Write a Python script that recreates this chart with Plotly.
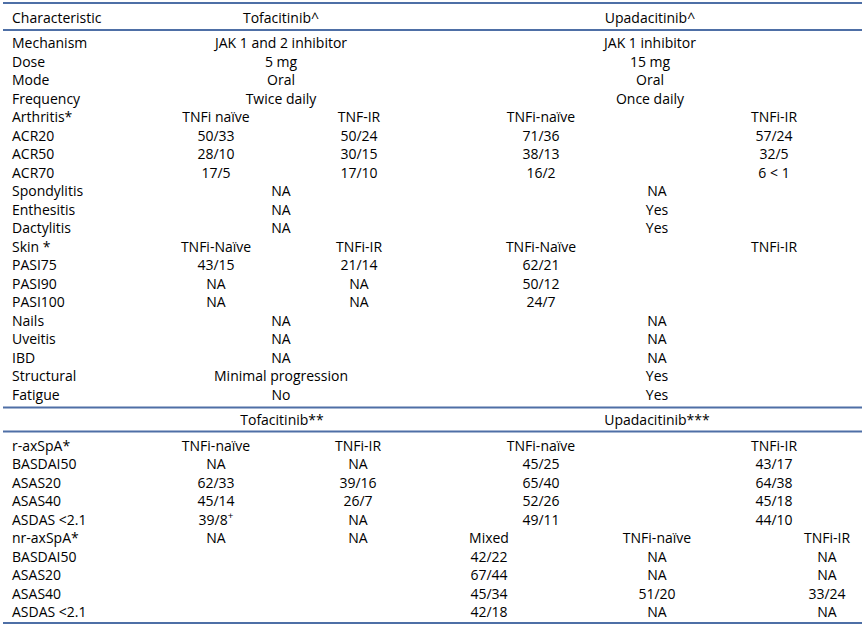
import plotly.graph_objects as go

# ---------------- data ----------------
header_top = ["Characteristic", "Tofacitinib^", "Upadacitinib^"]
header_bottom = ["Tofacitinib**", "Upadacitinib***"]

top_labels = ["Mechanism", "Dose", "Mode", "Frequency", "Arthritis*", "ACR20", "ACR50", "ACR70",
              "Spondylitis", "Enthesitis", "Dactylitis", "Skin *", "PASI75", "PASI90", "PASI100",
              "Nails", "Uveitis", "IBD", "Structural", "Fatigue"]
tofa_merged = ["JAK 1 and 2 inhibitor", "5 mg", "Oral", "Twice daily", "", "", "", "",
               "NA", "NA", "NA", "", "", "", "", "NA", "NA", "NA", "Minimal progression", "No"]
tofa_naive = ["", "", "", "", "TNFi naïve", "50/33", "28/10", "17/5", "", "", "",
              "TNFi-Naïve", "43/15", "NA", "NA", "", "", "", "", ""]
tofa_ir = ["", "", "", "", "TNF-IR", "50/24", "30/15", "17/10", "", "", "",
           "TNFi-IR", "21/14", "NA", "NA", "", "", "", "", ""]
upa_info = ["JAK 1 inhibitor", "15 mg", "Oral", "Once daily", "", "", "", "", "", "", "",
            "", "", "", "", "", "", "", "", ""]
upa_merged = ["", "", "", "", "", "", "", "", "NA", "Yes", "Yes", "", "", "", "",
              "NA", "NA", "NA", "Yes", "Yes"]
upa_naive = ["", "", "", "", "TNFi-naïve", "71/36", "38/13", "16/2", "", "", "",
             "TNFi-Naïve", "62/21", "50/12", "24/7", "", "", "", "", ""]
upa_ir = ["", "", "", "", "TNFi-IR", "57/24", "32/5", "6 &lt; 1", "", "", "",
          "TNFi-IR", "", "", "", "", "", "", "", ""]

bottom_labels = ["r-axSpA*", "BASDAI50", "ASAS20", "ASAS40", "ASDAS &lt;2.1",
                 "nr-axSpA*", "BASDAI50", "ASAS20", "ASAS40", "ASDAS &lt;2.1"]
tofa_ax_naive = ["TNFi-naïve", "NA", "62/33", "45/14", "39/8<sup>+</sup>", "NA", "", "", "", ""]
tofa_ax_ir = ["TNFi-IR", "NA", "39/16", "26/7", "NA", "NA", "", "", "", ""]
upa_ax_naive = ["TNFi-naïve", "45/25", "65/40", "52/26", "49/11", "", "", "", "", ""]
upa_ax_ir = ["TNFi-IR", "43/17", "64/38", "45/18", "44/10", "", "", "", "", ""]
upa_nr_mixed = ["", "", "", "", "", "Mixed", "42/22", "67/44", "45/34", "42/18"]
upa_nr_naive = ["", "", "", "", "", "TNFi-naïve", "NA", "NA", "51/20", "NA"]
upa_nr_ir = ["", "", "", "", "", "TNFi-IR", "NA", "NA", "33/24", "NA"]

# ---------------- layout constants ----------------
W, H = 865, 625
FONT = "Open Sans"
FSIZE = 14
TXT = "#000000"
RULE = "#4e6fa6"
DY = 2.0   # vertical text offset correction
LX = 12    # left label anchor

top_y0, bottom_y0, step = 42.5 + DY, 445.0 + DY, 18.5
top_y = [top_y0 + i * step for i in range(len(top_labels))]
bot_y = [bottom_y0 + i * step for i in range(len(bottom_labels))]

fig = go.Figure()


def add_col(texts, ys, x, align="center"):
    xs, yy, tt = [], [], []
    for t, y in zip(texts, ys):
        if t:
            xs.append(x)
            yy.append(y)
            tt.append(t)
    fig.add_trace(go.Scatter(
        x=xs, y=yy, text=tt, mode="text",
        textposition="middle right" if align == "left" else "middle center",
        textfont=dict(family=FONT, size=FSIZE, color=TXT),
        hoverinfo="skip", showlegend=False, cliponaxis=False))


# headers
add_col([header_top[0]], [17 + DY], LX, "left")
add_col([header_top[1]], [17 + DY], 281)
add_col([header_top[2]], [17 + DY], 650)
add_col([header_bottom[0]], [419.5 + DY], 282)
add_col([header_bottom[1]], [419.5 + DY], 657)

# top block
add_col(top_labels, top_y, LX, "left")
add_col(tofa_merged, top_y, 281)
add_col(tofa_naive, top_y, 216)
add_col(tofa_ir, top_y, 359)
add_col(upa_info, top_y, 650)
add_col(upa_merged, top_y, 657)
add_col(upa_naive, top_y, 541)
add_col(upa_ir, top_y, 774)

# bottom block
add_col(bottom_labels, bot_y, LX, "left")
add_col(tofa_ax_naive, bot_y, 216)
add_col(tofa_ax_ir, bot_y, 358)
add_col(upa_ax_naive, bot_y, 541)
add_col(upa_ax_ir, bot_y, 774)
add_col(upa_nr_mixed, bot_y, 489)
add_col(upa_nr_naive, bot_y, 657)
add_col(upa_nr_ir, bot_y, 827)

for y in [3, 30, 407.5, 431.5, 623]:
    fig.add_shape(type="line", x0=3, x1=862, y0=y, y1=y, xref="x", yref="y",
                  line=dict(color=RULE, width=2))

fig.update_layout(
    width=W, height=H, margin=dict(l=0, r=0, t=0, b=0),
    paper_bgcolor="white", plot_bgcolor="white",
    xaxis=dict(range=[0, W], visible=False, fixedrange=True),
    yaxis=dict(range=[H, 0], visible=False, fixedrange=True),
)
fig.write_html(
    "out.html",
    config={"displayModeBar": False, "staticPlot": True},
    post_script="document.body.style.margin='0';document.body.style.overflow='hidden';",
)
